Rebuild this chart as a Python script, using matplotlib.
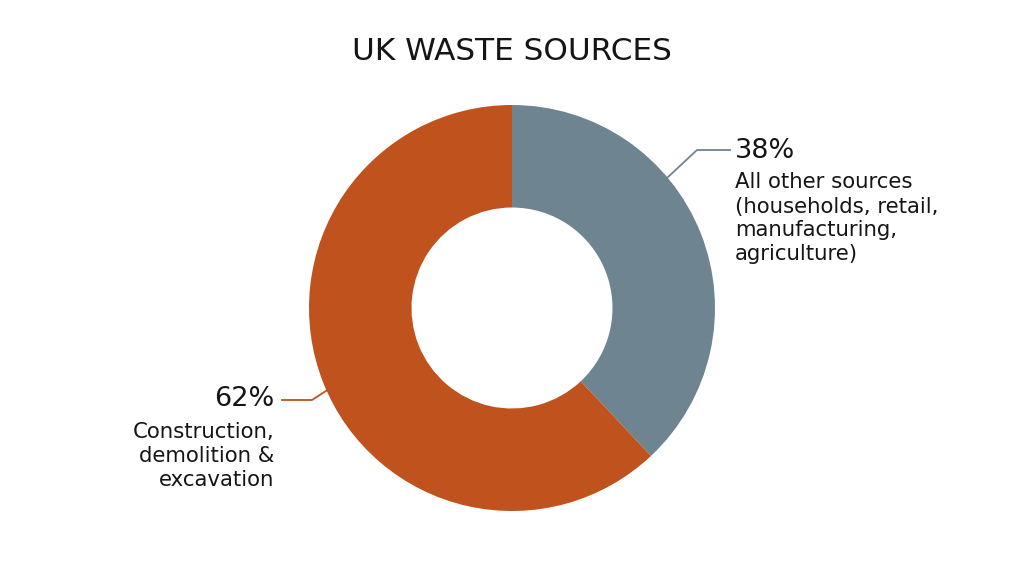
import matplotlib
matplotlib.use("Agg")
import matplotlib.pyplot as plt
import numpy as np

title = "UK WASTE SOURCES"
categories = ["All other sources\n(households, retail,\nmanufacturing,\nagriculture)",
              "Construction,\ndemolition &\nexcavation"]
values = [38, 62]
pct_labels = ["38%", "62%"]
colors = ["#6E8491", "#BF521D"]

plt.rcParams['font.family'] = ['DejaVu Sans']

W, H = 1024, 572
fig = plt.figure(figsize=(W/100, H/100), dpi=100)
ax = fig.add_axes([0, 0, 1, 1])

cx, cy, R = 512, H - 308, 203
ax.pie(values, colors=colors, startangle=90, counterclock=False,
       center=(cx, cy), radius=R, wedgeprops=dict(width=R*0.505, linewidth=0),
       frame=True)
ax.set_xlim(0, W)
ax.set_ylim(0, H)
ax.set_aspect('equal')
ax.axis('off')

txt = '#151515'
ax.text(512, H-60, title, ha='center', va='baseline', fontsize=22.4, color=txt)

# right label (gray)
a = np.deg2rad(40)
p0 = (cx + R*np.cos(a), cy + R*np.sin(a))
ax.plot([p0[0], 697, 730], [p0[1], H-150, H-150], color=colors[0], lw=1.3)
ax.text(735, H-158.5, pct_labels[0], ha='left', va='baseline', fontsize=19.5, color=txt)
ax.text(735, H-260.5, categories[0], ha='left', va='baseline', fontsize=15.3, color=txt,
        linespacing=1.25)

# left label (orange)
a = np.deg2rad(204)
p1 = (cx + R*np.cos(a), cy + R*np.sin(a))
ax.plot([p1[0], 312, 282], [p1[1], H-400, H-400], color=colors[1], lw=1.3)
ax.text(274, H-406.5, pct_labels[1], ha='right', va='baseline', fontsize=19.5, color=txt)
ax.text(274, H-486, categories[1], ha='right', va='baseline', fontsize=15.3, color=txt,
        linespacing=1.25, multialignment='right')

fig.savefig("out.png", dpi=100, facecolor='white')
